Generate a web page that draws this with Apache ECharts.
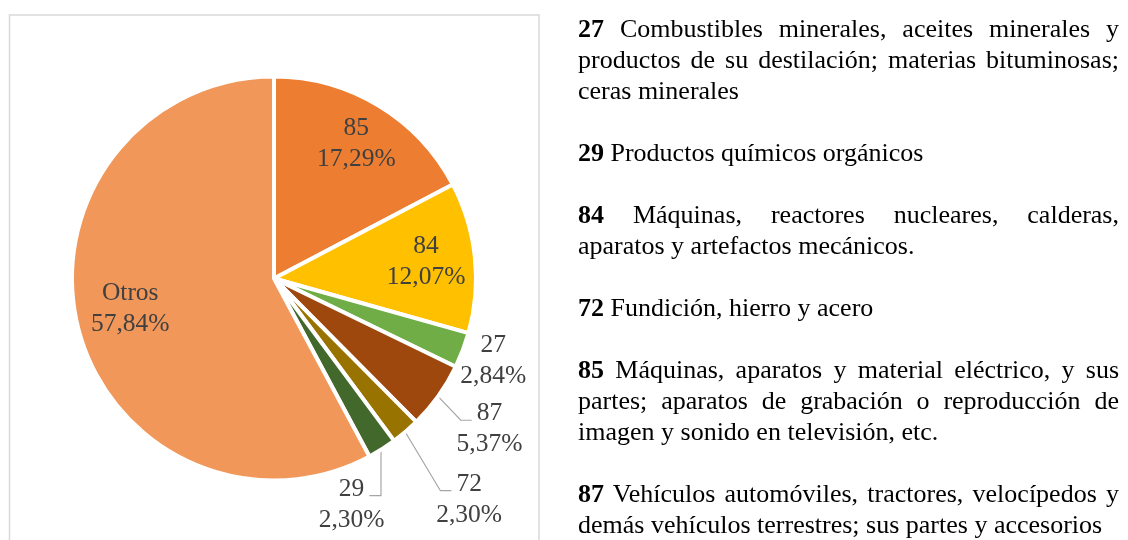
<!DOCTYPE html>
<html>
<head>
<meta charset="utf-8">
<script src="https://cdn.jsdelivr.net/npm/echarts@6/dist/echarts.min.js"></script>
<style>
	html, body { margin: 0; padding: 0; background: #fff; }
	#wrap { position: relative; width: 1128px; height: 540px; overflow: hidden; }
	#pie { position: absolute; left: 0; top: 0; width: 1128px; height: 540px; }
	#notes {
		position: absolute; left: 578px; top: 12.7px; width: 541px;
		font-family: "Liberation Serif", "Times New Roman", serif;
		font-size: 26px; line-height: 31px; color: #000;
		text-align: justify;
	}
	#notes p { margin: 0 0 31px 0; }
</style>
</head>
<body>
<div id="wrap">
	<div id="pie"></div>
	<div id="notes">
		<p><b>27</b> Combustibles minerales, aceites minerales y productos de su destilación; materias bituminosas; ceras minerales</p>
		<p><b>29</b> Productos químicos orgánicos</p>
		<p><b>84</b> Máquinas, reactores nucleares, calderas, aparatos y artefactos mecánicos.</p>
		<p><b>72</b> Fundición, hierro y acero</p>
		<p><b>85</b> Máquinas, aparatos y material eléctrico, y sus partes; aparatos de grabación o reproducción de imagen y sonido en televisión, etc.</p>
		<p><b>87</b> Vehículos automóviles, tractores, velocípedos y demás vehículos terrestres; sus partes y accesorios</p>
	</div>
</div>
<script>
// datos del gráfico (orden horario desde las 12)
var capitulos = ['85', '84', '27', '87', '72', '29', 'Otros'];
var participacion = [17.29, 12.07, 2.84, 5.37, 2.30, 2.30, 57.84];
var colores = ['#ED7D31', '#FFC000', '#70AD47', '#9E480E', '#997300', '#43682B', '#F1975A'];

// posicion de cada etiqueta: [factor del radio, giro en grados sobre el angulo medio]
var spots = [[0.79, 0.3], [0.765, -0.2], [1.17, -0.3], [1.315, -0.6], [1.475, -0.8], [1.195, 13.4], [0.735, 2.1]];
var conLinea = [false, false, false, true, true, true, false];

var cx = 274, cy = 278.5, R = 200, fs = 25.5;

// angulo medio de cada porcion (grados, horario desde arriba)
var total = participacion.reduce(function (a, b) { return a + b; }, 0);
var medio = [];
var acum = 0;
participacion.forEach(function (v) {
	medio.push((acum + v / 2) / total * 360);
	acum += v;
});

function polar(f, ang) {
	var a = ang * Math.PI / 180;
	return [cx + f * R * Math.sin(a), cy - f * R * Math.cos(a)];
}

var myChart = echarts.init(document.getElementById('pie'));
var option = {
	animation: false,
	graphic: [{
		type: 'rect',
		shape: { x: 9.5, y: 15, width: 529.5, height: 600 },
		style: { fill: 'none', stroke: '#D9D9D9', lineWidth: 1.5 },
		silent: true
	}],
	series: [{
		type: 'pie',
		center: [cx, cy],
		radius: [0, R + 2],
		startAngle: 90,
		clockwise: true,
		avoidLabelOverlap: false,
		itemStyle: { borderColor: '#fff', borderWidth: 4 },
		label: {
			show: true,
			position: 'outside',
			color: '#404040',
			fontFamily: 'Liberation Serif',
			fontSize: fs,
			lineHeight: 31,
			formatter: function (p) {
				return p.name + '\n' + p.value.toFixed(2).replace('.', ',') + '%';
			}
		},
		labelLine: {
			show: true,
			lineStyle: { color: '#A6A6A6', width: 1.2 }
		},
		labelLayout: function (p) {
			var i = p.dataIndex;
			var pos = polar(spots[i][0], medio[i] + spots[i][1]);
			var res = { x: pos[0], y: pos[1], align: 'center', verticalAlign: 'middle' };
			if (conLinea[i]) {
				var ini = polar(1, medio[i]);
				var half = capitulos[i].length * fs * 0.25 + 5;
				var dir = ini[0] < pos[0] ? -1 : 1;
				var fin = [pos[0] + dir * half, pos[1] - 9];
				var codo = [fin[0] + dir * 11, fin[1]];
				if (dir > 0) codo[0] = ini[0];
				res.labelLinePoints = [ini, codo, fin];
			}
			return res;
		},
		data: capitulos.map(function (c, i) {
			return {
				name: c,
				value: participacion[i],
				itemStyle: { color: colores[i] },
				labelLine: { show: conLinea[i] }
			};
		})
	}]
};
myChart.setOption(option);
</script>
</body>
</html>
